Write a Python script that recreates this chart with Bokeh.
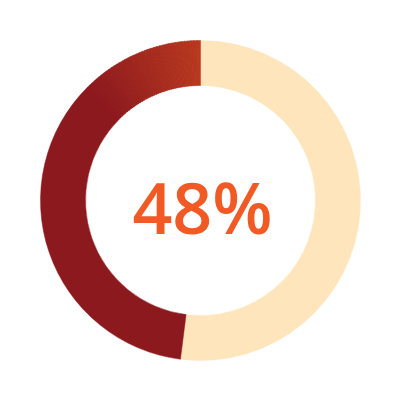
import numpy as np
from bokeh.plotting import figure
from bokeh.embed import file_html
from bokeh.resources import INLINE
from bokeh.core.properties import value

# data
percent = 48
label = "48%"

# style
CREAM = "#fee5bc"
RED_DARK = (140, 25, 30)
RED_LIGHT = (184, 57, 31)
TEXT_COLOR = "#f15a24"
R_OUT, R_IN = 160, 115
GRAD_SPAN = np.deg2rad(45)
N_SEG = 40

p = figure(width=384, height=384, x_range=(-200, 184), y_range=(-184, 200),
           output_backend="svg", toolbar_location=None, min_border=0)
p.axis.visible = False
p.grid.visible = False
p.outline_line_color = None
p.background_fill_color = "white"

start = np.pi / 2
end_red = start + percent / 100 * 2 * np.pi

# cream remainder
p.annular_wedge(x=0, y=0, inner_radius=R_IN, outer_radius=R_OUT,
                start_angle=end_red, end_angle=start + 2 * np.pi,
                fill_color=CREAM, line_color=CREAM, line_width=0.5)

# red arc: solid body then gradient segments near the top
p.annular_wedge(x=0, y=0, inner_radius=R_IN, outer_radius=R_OUT,
                start_angle=start + GRAD_SPAN, end_angle=end_red,
                fill_color="#%02x%02x%02x" % RED_DARK,
                line_color="#%02x%02x%02x" % RED_DARK, line_width=0.5)
edges = np.linspace(start, start + GRAD_SPAN, N_SEG + 1)
cols = []
for i in range(N_SEG):
    t = (i + 0.5) / N_SEG
    c = tuple(int(round(RED_LIGHT[k] * (1 - t) + RED_DARK[k] * t)) for k in range(3))
    cols.append("#%02x%02x%02x" % c)
p.annular_wedge(x=0, y=0, inner_radius=R_IN, outer_radius=R_OUT,
                start_angle=edges[:-1], end_angle=edges[1:] + 0.003,
                fill_color=cols, line_color=cols, line_width=0.5)

p.text(x=[2], y=[-6], text=[label], text_font=value("Open Sans SemiBold"),
       text_font_style="normal", text_font_size="70px", text_color=TEXT_COLOR,
       text_align="center", text_baseline="alphabetic")

open("out.html", "w").write(file_html(p, INLINE))
